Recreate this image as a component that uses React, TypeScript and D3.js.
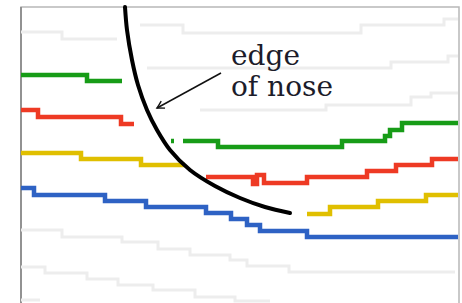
import React, { useEffect, useRef } from 'react'
import * as d3 from 'd3'

// frame units: x 0..438, y 0..296 (y grows downward)
const greenLeft = [[0, 68], [66, 74], [101, 74]]
const greenTick = [[150, 134], [153, 134]]
const greenRight = [[162, 134], [197, 140], [321, 134], [364, 129], [369, 123], [381, 116], [437, 116]]
const redLeft = [[0, 103], [17, 110], [100, 117], [113, 117]]
const redRight = [[185, 170], [232, 177], [236, 168], [243, 176], [286, 170], [346, 164], [375, 158], [411, 152], [437, 152]]
const yellowLeft = [[0, 146], [60, 152], [120, 158], [164, 158]]
const yellowRight = [[286, 207], [309, 200], [357, 194], [405, 188], [437, 188]]
const blueLine = [[0, 181], [13, 188], [84, 194], [125, 200], [185, 206], [210, 212], [226, 218], [239, 224], [286, 230], [437, 230]]

const grayLines = [
  [[0, 25], [41, 32], [96, 32]],
  [[119, 18], [162, 26], [340, 18], [423, 12], [437, 12]],
  [[126, 61], [370, 55], [427, 49], [437, 49]],
  [[179, 103], [305, 98], [390, 90], [410, 86], [437, 86]],
  [[0, 223], [41, 230], [101, 235], [137, 242], [169, 248], [209, 253], [226, 259], [268, 265], [434, 265]],
  [[0, 260], [24, 266], [66, 272], [97, 278], [132, 283], [174, 290], [214, 294], [249, 294]],
  [[0, 293], [19, 293]]
]

const noseEdge = [[104, 0], [106, 23], [111, 53], [117, 78], [126, 103], [136, 123], [149, 143], [169, 163], [194, 179], [219, 191], [244, 200], [269, 206]]
const arrowLine = [[200, 66], [136, 101]]
const labelLines = ['edge', 'of nose']

const App = () => {
  const node = useRef<SVGSVGElement>(null)

  useEffect(() => {
    const svg = d3.select(node.current)
    svg.selectAll('*').remove()

    const xScale = d3.scaleLinear().domain([0, 438]).range([21, 459])
    const yScale = d3.scaleLinear().domain([0, 296]).range([7, 303])

    const step = d3.line<number[]>()
      .x(d => xScale(d[0]))
      .y(d => yScale(d[1]))
      .curve(d3.curveStepAfter)

    svg.append('defs')
      .append('marker')
      .attr('id', 'tip')
      .attr('viewBox', '-8 -5 10 10')
      .attr('refX', 0)
      .attr('refY', 0)
      .attr('markerWidth', 10)
      .attr('markerHeight', 10)
      .attr('markerUnits', 'userSpaceOnUse')
      .attr('orient', 'auto')
      .append('path')
      .attr('d', 'M-7,-4 Q-2,-1 0,0 Q-2,1 -7,4')
      .attr('fill', 'none')
      .attr('stroke', '#111')
      .attr('stroke-width', 1.4)

    // frame
    svg.append('path')
      .attr('d', `M${xScale(0)},303 V${yScale(0)} H${xScale(438)} V303`)
      .attr('fill', 'none')
      .attr('stroke', '#b8b8b8')
      .attr('stroke-width', 1.5)
    svg.append('line')
      .attr('x1', xScale(0)).attr('x2', xScale(0))
      .attr('y1', yScale(0)).attr('y2', 303)
      .attr('stroke', '#8c8c8c')
      .attr('stroke-width', 1.8)

    svg.selectAll('.gray')
      .data(grayLines)
      .enter()
      .append('path')
      .attr('class', 'gray')
      .attr('d', d => step(d))
      .attr('fill', 'none')
      .attr('stroke', '#ededed')
      .attr('stroke-width', 3)

    const colored = [
      { pts: greenLeft, color: '#179c17' },
      { pts: greenTick, color: '#179c17' },
      { pts: greenRight, color: '#179c17' },
      { pts: redLeft, color: '#ee3a24' },
      { pts: redRight, color: '#ee3a24' },
      { pts: yellowLeft, color: '#e0bf00' },
      { pts: yellowRight, color: '#e0bf00' },
      { pts: blueLine, color: '#2e62c4' }
    ]

    svg.selectAll('.series')
      .data(colored)
      .enter()
      .append('path')
      .attr('class', 'series')
      .attr('d', d => step(d.pts))
      .attr('fill', 'none')
      .attr('stroke', d => d.color)
      .attr('stroke-width', 4.5)

    const curve = d3.line<number[]>()
      .x(d => xScale(d[0]))
      .y(d => yScale(d[1]))
      .curve(d3.curveCatmullRom)

    svg.append('path')
      .attr('d', curve(noseEdge))
      .attr('fill', 'none')
      .attr('stroke', '#000')
      .attr('stroke-width', 4)
      .attr('stroke-linecap', 'round')

    svg.append('line')
      .attr('x1', xScale(arrowLine[0][0]))
      .attr('y1', yScale(arrowLine[0][1]))
      .attr('x2', xScale(arrowLine[1][0]))
      .attr('y2', yScale(arrowLine[1][1]))
      .attr('stroke', '#111')
      .attr('stroke-width', 1.5)
      .attr('marker-end', 'url(#tip)')

    // two-line label in one text element
    const label = svg.append('text')
      .attr('y', yScale(58))
      .style('font-family', '"DejaVu Serif", serif')
      .style('font-size', '28px')
      .attr('fill', '#1c1c2a')

    label.selectAll('tspan')
      .data(labelLines)
      .enter()
      .append('tspan')
      .attr('x', xScale(210))
      .attr('dy', (d, i) => (i === 0 ? 0 : 31))
      .text(d => d)
  }, [])

  return (
    <svg ref={node} width={462} height={303}
      style={{ position: 'absolute', left: 0, top: 0, background: '#fff' }} />
  )
}

export default App
